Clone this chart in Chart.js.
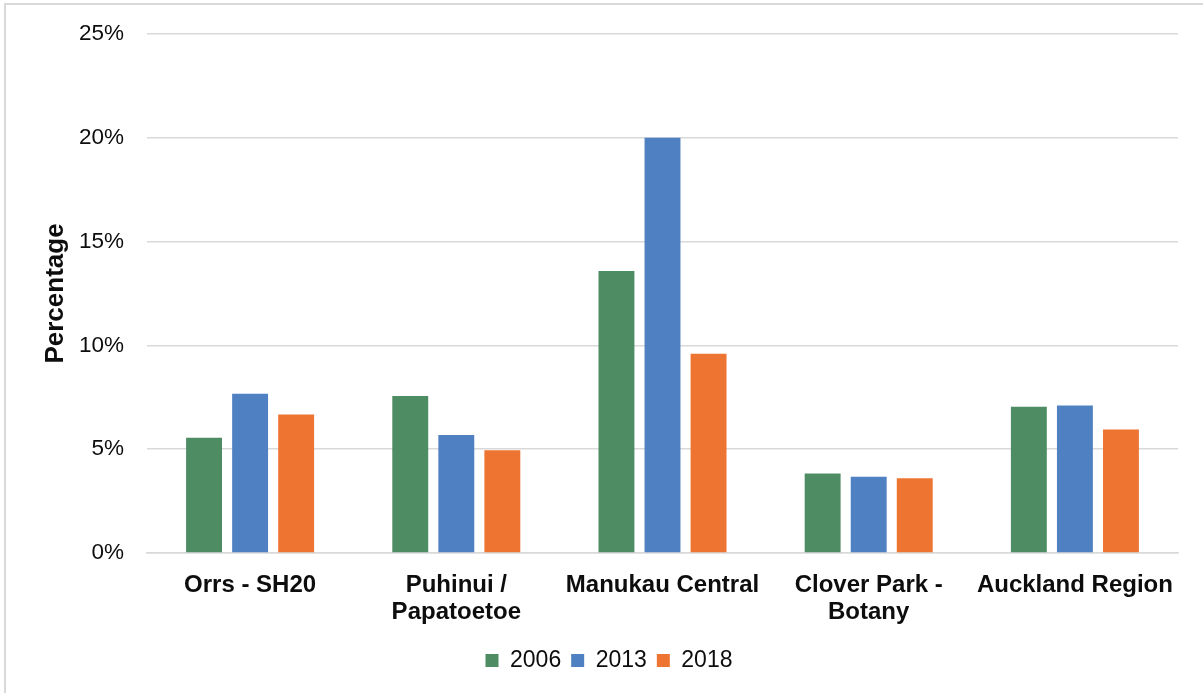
<!DOCTYPE html>
<html>
<head>
<meta charset="utf-8">
<script src="https://cdn.jsdelivr.net/npm/chart.js@4"></script>
<style>
    html, body { margin: 0; padding: 0; background: #fff; }
    #wrap { position: relative; width: 1203px; height: 693px; overflow: hidden; }
    #frame {
        position: absolute; left: 4px; top: 3px; width: 1300px; height: 800px;
        border-left: 2px solid #d9d9d9; border-top: 2px solid #d9d9d9;
        pointer-events: none;
    }
</style>
</head>
<body>
<div id="wrap">
    <canvas id="barChart" width="1203" height="693"></canvas>
    <div id="frame"></div>
</div>
<script>
// 데이터
const categories = ['Orrs - SH20', ['Puhinui /', 'Papatoetoe'], 'Manukau Central', ['Clover Park -', 'Botany'], 'Auckland Region'];
const seriesNames = ['2006', '2013', '2018'];
const values2006 = [5.55, 7.56, 13.58, 3.83, 7.05];
const values2013 = [7.67, 5.69, 20.0, 3.67, 7.11];
const values2018 = [6.67, 4.95, 9.6, 3.6, 5.95];
const yMax = 25;
const yStep = 5;

const seriesColors = ['#4E8D63', '#4F81C2', '#EE7431'];
const gridColor = '#d9d9d9';
const textColor = '#0d0d0d';
const fontFamily = "'Liberation Sans', Arial, sans-serif";

let barChart = null;

function initializeChart() {
    if (barChart) {
        barChart.destroy();
        barChart = null;
    }

    const seriesValues = [values2006, values2013, values2018];

    barChart = new Chart(document.getElementById('barChart'), {
        type: 'bar',
        data: {
            labels: categories,
            datasets: seriesNames.map((name, i) => ({
                label: name,
                data: seriesValues[i],
                backgroundColor: seriesColors[i],
                barPercentage: 0.78,
                categoryPercentage: 0.67
            }))
        },
        options: {
            responsive: false,
            animation: false,
            layout: {
                padding: { left: 40, right: 25, top: 34, bottom: 11 }
            },
            plugins: {
                legend: {
                    position: 'bottom',
                    labels: {
                        color: textColor,
                        font: { family: fontFamily, size: 23 },
                        boxWidth: 13,
                        boxHeight: 13,
                        padding: 10
                    }
                },
                tooltip: { enabled: false }
            },
            scales: {
                x: {
                    grid: { display: false },
                    border: { display: true, color: gridColor, width: 1.5 },
                    ticks: {
                        color: textColor,
                        padding: 11,
                        maxRotation: 0,
                        autoSkip: false,
                        font: { family: fontFamily, size: 24, weight: 'bold', lineHeight: 1.12 }
                    },
                    afterFit: function(scale) { scale.height = 86; }
                },
                y: {
                    min: 0,
                    max: yMax,
                    grid: { color: gridColor, lineWidth: 1.5, drawTicks: false },
                    border: { display: false },
                    ticks: {
                        stepSize: yStep,
                        color: textColor,
                        padding: 23,
                        font: { family: fontFamily, size: 22.5 },
                        callback: v => v + '%'
                    },
                    title: {
                        display: true,
                        text: 'Percentage',
                        color: textColor,
                        padding: 0,
                        font: { family: fontFamily, size: 26, weight: 'bold' }
                    },
                    afterFit: function(scale) {
                        scale.width = 107;
                        // 라벨 여백이 상단 위치를 밀어내지 않도록
                        scale.paddingTop = 0;
                        scale.paddingBottom = 0;
                    }
                }
            }
        }
    });
}

initializeChart();
</script>
</body>
</html>
